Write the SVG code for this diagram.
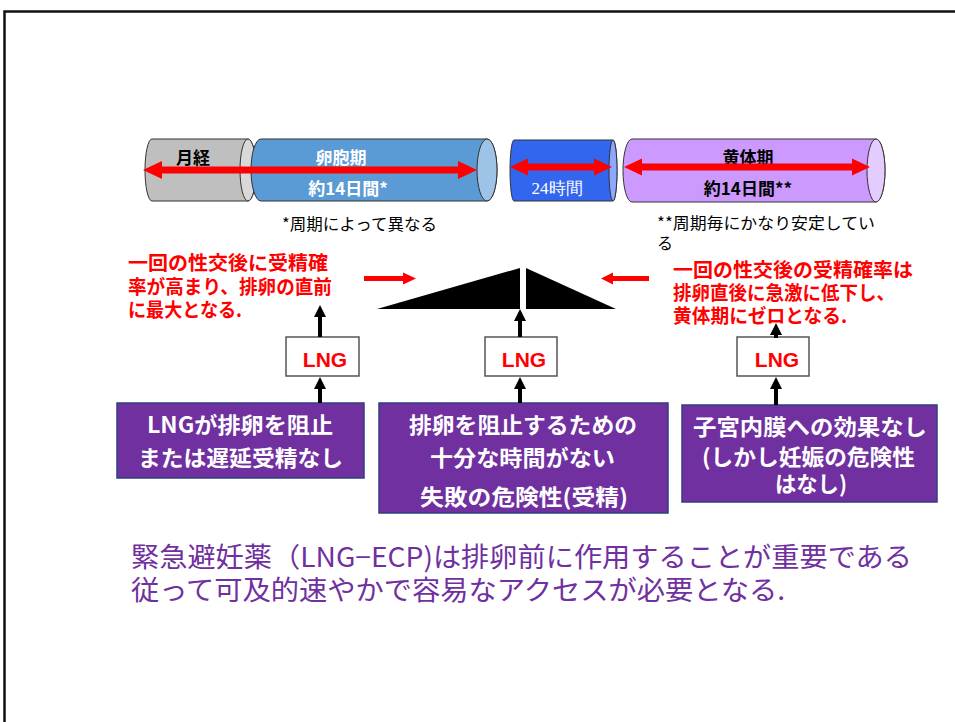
<svg xmlns="http://www.w3.org/2000/svg" width="955" height="722" viewBox="0 0 955 722">
<defs>
<style>
.cyl{stroke:#333;stroke-width:1}
.redt{fill:#ff0000;font-size:19.5px;font-weight:bold;font-family:"Noto Sans CJK JP",sans-serif}
.boxt{fill:#fff;font-size:22px;font-weight:bold;font-family:"Noto Sans CJK JP",sans-serif;text-anchor:middle}
.pbox{fill:#7030a0;stroke:#2f3f80;stroke-width:1.5}
.lbox{fill:#fff;stroke:#555;stroke-width:1.5}
.lng{fill:#ff0000;font-size:21px;font-weight:bold;font-family:"Liberation Sans",Arial,sans-serif;text-anchor:middle}
.up{stroke:#000;stroke-width:4;fill:none;marker-end:url(#ah)}
.note{font-size:16px;fill:#000;font-family:"Noto Sans CJK JP",sans-serif}
.cl{font-size:17px;font-weight:bold;font-family:"Noto Sans CJK JP",sans-serif;text-anchor:middle}
.serif{font-size:17px;font-family:"Liberation Serif","DejaVu Serif",serif;text-anchor:middle}
.red{fill:#ff0000}
.bottom{fill:#7030a0;font-size:27px;font-family:"Noto Sans CJK JP",sans-serif}
</style>
<marker id="ah" markerUnits="userSpaceOnUse" viewBox="0 0 12 12" refX="0" refY="6" markerWidth="12" markerHeight="12" orient="auto">
<path d="M0,0 L12,6 L0,12 Z" fill="#000"/>
</marker>
</defs>
<rect x="4.5" y="11.5" width="1000" height="800" fill="none" stroke="#111" stroke-width="2.5"/>

<g id="cyl-menses">
<path class="cyl" fill="#bfbfbf" d="M152,139 H248 A8,31 0 0 1 248,201 H152 A7,31 0 0 1 152,139 Z"/>
<ellipse class="cyl" cx="248" cy="170" rx="8" ry="31" fill="#d9d9d9"/>
<text class="cl" x="193" y="163.5" fill="#000">月経</text>
</g>
<g id="cyl-follicular">
<path class="cyl" fill="#5b9bd5" d="M261,139 H487 A10,31 0 0 1 487,201 H261 A10,31 0 0 1 261,139 Z"/>
<ellipse class="cyl" cx="487" cy="170" rx="10" ry="31" fill="#9dc3e6"/>
<text class="cl" x="341" y="163.5" fill="#fff">卵胞期</text>
<text class="cl" x="348" y="194.5" fill="#fff">約14日間*</text>
</g>
<g id="cyl-24h">
<path class="cyl" fill="#3366ee" d="M514,140 H613 A4,30.5 0 0 1 613,201 H514 A4,30.5 0 0 1 514,140 Z"/>
<ellipse class="cyl" cx="613" cy="170.5" rx="4" ry="30.5" fill="#8fa8ff"/>
<text class="serif" x="557" y="193.5" fill="#fff">24時間</text>
</g>
<g id="cyl-luteal">
<path class="cyl" fill="#cc99ff" d="M632,139 H876 A9,31.5 0 0 1 876,202 H632 A9,31.5 0 0 1 632,139 Z"/>
<ellipse class="cyl" cx="876" cy="170.5" rx="9" ry="31.5" fill="#e5ccff"/>
<text class="cl" x="748" y="163.5" fill="#000">黄体期</text>
<text class="cl" x="748" y="194.5" fill="#000">約14日間**</text>
</g>

<g id="span-arrows">
<polygon class="red" points="143,170 162,161 162,166.5 458,166.5 458,161 477,170 458,179 458,173.5 162,173.5 162,179"/>
<polygon class="red" points="510,167 528,158.5 528,163.5 594,163.5 594,158.5 612,167 594,175.5 594,170.5 528,170.5 528,175.5"/>
<polygon class="red" points="624,167 642,158.5 642,163.5 852,163.5 852,158.5 870,167 852,175.5 852,170.5 642,170.5 642,175.5"/>
</g>

<g id="notes">
<text class="note" x="282" y="230" textLength="155" lengthAdjust="spacingAndGlyphs">*周期によって異なる</text>
<text class="note" x="657" y="229" textLength="218" lengthAdjust="spacingAndGlyphs">**周期毎にかなり安定してい</text>
<text class="note" x="657" y="249">る</text>
</g>

<g id="note-left">
<text class="redt" x="128" y="270" textLength="200" lengthAdjust="spacingAndGlyphs">一回の性交後に受精確</text>
<text class="redt" x="128" y="294" textLength="204" lengthAdjust="spacingAndGlyphs">率が高まり、排卵の直前</text>
<text class="redt" x="128" y="317" textLength="114" lengthAdjust="spacingAndGlyphs">に最大となる.</text>
</g>
<g id="note-right">
<text class="redt" x="673" y="277" textLength="240" lengthAdjust="spacingAndGlyphs">一回の性交後の受精確率は</text>
<text class="redt" x="673" y="300" textLength="222" lengthAdjust="spacingAndGlyphs">排卵直後に急激に低下し、</text>
<text class="redt" x="673" y="323" textLength="174" lengthAdjust="spacingAndGlyphs">黄体期にゼロとなる.</text>
</g>

<g id="probability">
<polygon points="377,309 520,268 520,309" fill="#000"/>
<polygon points="526,268 616,309 526,309" fill="#000"/>
<polygon class="red" points="364,276 403,276 403,272.5 416,278.5 403,284.5 403,281 364,281"/>
<polygon class="red" points="649,276 613,276 613,272.5 601,278.5 613,284.5 613,281 649,281"/>
</g>

<g id="lng-left">
<rect class="lbox" x="286" y="337" width="73" height="39"/>
<text class="lng" x="325" y="367">LNG</text>
</g>
<g id="lng-center">
<rect class="lbox" x="485" y="337" width="72" height="39"/>
<text class="lng" x="524" y="367">LNG</text>
</g>
<g id="lng-right">
<rect class="lbox" x="737" y="337" width="72" height="39"/>
<text class="lng" x="777" y="367">LNG</text>
</g>

<g id="box-left">
<rect class="pbox" x="117" y="403" width="247" height="75"/>
<text class="boxt" x="240" y="433" textLength="186" lengthAdjust="spacingAndGlyphs">LNGが排卵を阻止</text>
<text class="boxt" x="240.5" y="466" textLength="205" lengthAdjust="spacingAndGlyphs">または遅延受精なし</text>
</g>
<g id="box-center">
<rect class="pbox" x="379" y="403" width="289" height="110"/>
<text class="boxt" x="523" y="433" textLength="228" lengthAdjust="spacingAndGlyphs">排卵を阻止するための</text>
<text class="boxt" x="522.5" y="466" textLength="185" lengthAdjust="spacingAndGlyphs">十分な時間がない</text>
<text class="boxt" x="524" y="505" textLength="208" lengthAdjust="spacingAndGlyphs">失敗の危険性(受精)</text>
</g>
<g id="box-right">
<rect class="pbox" x="682" y="405" width="255" height="97"/>
<text class="boxt" x="810" y="435" textLength="234" lengthAdjust="spacingAndGlyphs">子宮内膜への効果なし</text>
<text class="boxt" x="808.5" y="465" textLength="213" lengthAdjust="spacingAndGlyphs">(しかし妊娠の危険性</text>
<text class="boxt" x="811" y="492" textLength="72" lengthAdjust="spacingAndGlyphs">はなし)</text>
</g>

<g id="connectors">
<line class="up" x1="320" y1="337" x2="320" y2="317"/>
<line class="up" x1="520" y1="337" x2="520" y2="321"/>
<line class="up" x1="776" y1="338" x2="776" y2="335"/>
<line class="up" x1="320" y1="403" x2="320" y2="389"/>
<line class="up" x1="520" y1="403" x2="520" y2="389"/>
<line class="up" x1="776" y1="405" x2="776" y2="389"/>
</g>

<g id="conclusion">
<text class="bottom" x="131" y="567" textLength="781" lengthAdjust="spacingAndGlyphs">緊急避妊薬（LNG−ECP)は排卵前に作用することが重要である</text>
<text class="bottom" x="131" y="600" textLength="654" lengthAdjust="spacingAndGlyphs">従って可及的速やかで容易なアクセスが必要となる.</text>
</g>
</svg>
